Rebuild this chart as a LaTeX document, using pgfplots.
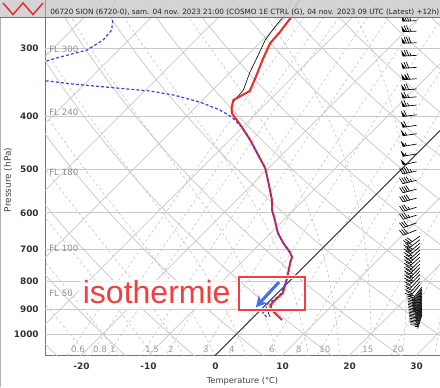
\documentclass[border=0pt]{standalone}
\usepackage{fontspec}
\setmainfont{DejaVu Sans}
\newfontfamily\arialf{Liberation Sans}
\usepackage{pgfplots}
\pgfplotsset{compat=1.18}
\usepackage{pgfplotstable}
\usetikzlibrary{arrows.meta}

\definecolor{gridc}{RGB}{200,200,200}
\definecolor{dashc}{RGB}{200,200,200}
\definecolor{tred}{RGB}{240,40,40}
\definecolor{tdblue}{RGB}{60,60,240}
\definecolor{annred}{RGB}{242,62,62}
\definecolor{arrblue}{RGB}{70,110,230}
\definecolor{hdr}{RGB}{208,208,208}
\definecolor{isozero}{RGB}{60,60,78}

% ---- saturated (moist) adiabat, integrated step by step ----
\newcommand\mstep[1]{%
  \pgfmathsetmacro\mTc{\mT-273.15}%
  \pgfmathsetmacro\mes{6.112*exp(17.67*\mTc/(\mTc+243.5))}%
  \pgfmathsetmacro\mrs{0.622*\mes/(\mPr-\mes)}%
  \pgfmathsetmacro\mLT{2501/\mT}%
  \pgfmathsetmacro\mdT{(0.287*\mT+2501*\mrs)/(\mPr*(1.005+\mLT*\mLT*\mrs*2.16725))}%
  \pgfmathsetmacro\mT{\mT+(#1)*\mdT}%
  \pgfmathsetmacro\mPr{\mPr+(#1)}%
}
\newcommand\moistcurve[1]{%
  \pgfmathsetmacro\mT{#1+273.15}%
  \def\mPr{1000}%
  \mstep{25}\mstep{25}\mstep{25}\mstep{25}%
  \def\mcoords{}%
  \pgfplotsforeachungrouped \mi in {0,...,69}{%
    \pgfmathsetmacro\mX{\mT-273.15+35.42*ln(1092.5/\mPr)}%
    \edef\mcoords{\mcoords(\mX,\mPr)}%
    \mstep{-12.5}%
  }%
  \edef\mtmp{\noexpand\addplot[dashl] coordinates {\mcoords};}%
  \mtmp
}

% ---- wind barb mark ----
\pgfdeclareplotmark{wbarb}{%
  \pgfkeys{/pgf/fpu=false}%
  \pgfsetlinewidth{0.5pt}%
  \pgfpathmoveto{\pgfpointorigin}%
  \pgfpathlineto{\pgfqpoint{10.5pt}{0pt}}%
  \pgfusepathqstroke
  \pgfmathtruncatemacro\npen{\spd/50}%
  \pgfmathtruncatemacro\nfull{(\spd-50*\npen)/10}%
  \pgfmathtruncatemacro\nhalf{(\spd-50*\npen-10*\nfull)/5}%
  \pgfmathsetmacro\szero{10.5-2.4*\npen-0.5*(\npen>0)}%
  \ifnum\npen>0
    \foreach \k in {1,...,\npen}{%
      \pgfmathsetmacro\aa{10.5-2.4*(\k-1)}%
      \pgfpathmoveto{\pgfpoint{\aa pt}{0pt}}%
      \pgfpathlineto{\pgfpoint{\aa pt+0.8pt}{-4.5pt}}%
      \pgfpathlineto{\pgfpoint{\aa pt-2.2pt}{0pt}}%
      \pgfpathclose
      \pgfusepathqfill
    }%
  \fi
  \ifnum\nfull>0
    \foreach \j in {1,...,\nfull}{%
      \pgfmathsetmacro\bb{\szero-1.7*(\j-1)}%
      \pgfpathmoveto{\pgfpoint{\bb pt}{0pt}}%
      \pgfpathlineto{\pgfpoint{\bb pt+1.5pt}{-4.5pt}}%
      \pgfusepathqstroke
    }%
  \fi
  \ifnum\nhalf>0
    \pgfmathsetmacro\bb{\szero-1.7*\nfull-1.7*((\npen+\nfull)==0)}%
    \pgfpathmoveto{\pgfpoint{\bb pt}{0pt}}%
    \pgfpathlineto{\pgfpoint{\bb pt+0.75pt}{-2.25pt}}%
    \pgfusepathqstroke
  \fi
}

% ---- data (pressure hPa, temperature degC) ----
\pgfplotstableread{
p T
240 -40.8
247.8 -40.4
261.8 -39.2
280.1 -38.6
293.4 -38.4
312.5 -37.2
340.0 -35.4
359.1 -34.3
373.1 -35.4
384.2 -34.6
394.0 -33.7
418.0 -30.1
441.6 -26.9
476.3 -22.8
496.8 -20.5
522.6 -18.3
545.1 -16.5
568.6 -14.7
593.0 -13.2
618.5 -11.3
653.4 -8.9
681.5 -6.6
707.8 -4.3
722.9 -3.2
741.4 -2.6
773.3 -1.4
789.8 -0.8
841.3 0.8
866.5 0.7
885.0 0.7
903.8 1.7
923.1 3.2
942.7 4.7
}\tempdata

\pgfplotstableread{
p T
240 -68.5
250 -67.5
261.8 -65.9
277.7 -64.0
289.7 -63.8
302.2 -64.7
311.2 -67.7
317.2 -69.3
326 -75
338 -75
344.3 -65.9
348.7 -61.7
354.6 -54.6
359.1 -49.2
365.2 -45.1
376.2 -40.1
389.1 -35.9
400.7 -33.1
418.0 -30.1
441.6 -26.9
476.3 -22.8
496.8 -20.5
522.6 -18.3
545.1 -16.5
568.6 -14.7
593.0 -13.2
618.5 -11.3
653.4 -8.9
681.5 -6.6
707.8 -4.3
722.9 -3.2
741.4 -2.6
773.3 -1.4
789.8 -0.8
841.3 0.6
866.5 0.5
877.5 0.1
903.8 0.7
915.3 0.8
930.9 2.0
}\dewdata

\pgfplotstableread{
p T
240 -41.8
247.8 -41.4
257.4 -40.5
274.3 -40.1
289.7 -39.6
308.6 -38.4
331.5 -37.1
357.6 -35.4
377.8 -35.1
394.0 -33.7
418.0 -30.1
441.6 -26.9
476.3 -22.8
496.8 -20.5
522.6 -18.3
545.1 -16.5
568.6 -14.7
593.0 -13.2
618.5 -11.3
653.4 -8.9
681.5 -6.6
707.8 -4.3
722.9 -3.2
741.4 -2.6
773.3 -1.4
789.8 -0.8
841.3 0.8
866.5 0.7
892.5 1.0
915.3 1.6
930.9 2.5
}\blackdata

% wind: pressure, speed (kt), staff angle (deg), position
\pgfplotstableread{
p spd ang X
267 75 -178 30.0
279 75 -178 30.0
293 80 -178 30.0
309 75 -177 30.0
325 70 -176 30.0
341 110 -176 30.0
356 70 -175 30.0
368 65 -175 30.0
381 65 -174 30.0
397 60 -173 30.0
415 60 -172 30.0
430 55 -172 30.0
449 55 -170 30.0
468 55 -170 30.0
484 50 -168 30.0
503 45 -168 30.0
523 45 -166 30.0
543 40 -165 30.0
564 40 -165 30.0
586 35 -163 30.0
606 35 -163 30.0
626 30 -160 30.0
645 30 -158 30.0
662 30 -145 30.5
672 30 -142 30.5
682 30 -140 30.5
692 30 -140 30.5
702 25 -138 30.5
712 25 -138 30.5
723 25 -138 30.5
734 25 -136 30.5
745 25 -136 30.5
756 25 -135 30.5
767 25 -135 30.5
778 25 -134 30.5
790 20 -133 30.5
802 20 -132 30.5
813 20 -130 30.5
820 20 -128 30.8
826 20 -127 30.8
831 15 -126 30.8
836 15 -125 30.8
841 15 -124 30.8
846 15 -124 30.8
851 15 -123 30.8
856 15 -122 30.8
861 15 -121 30.8
866 15 -120 30.8
871 15 -120 30.8
876 10 -119 30.8
881 10 -118 30.8
886 10 -118 30.8
891 10 -117 30.8
896 10 -116 30.8
901 10 -115 30.8
906 10 -114 30.8
912 10 -112 30.8
918 5 -110 30.8
924 5 -108 30.8
}\windtab

\begin{document}
\begin{tikzpicture}
\path[use as bounding box] (-33.75pt,-24pt) rectangle (296.25pt,266.25pt);
\begin{axis}[
  at={(0,0)}, anchor=south west,
  scale only axis, width=296.25pt, height=266.25pt,
  xmin=-25.45, xmax=33.5,
  ymode=log, ymin=244.7, ymax=1092.5, y dir=reverse,
  axis x line*=bottom, axis y line*=left,
  axis line style={draw=black!55, line width=0.6pt, -},
  xtick={-20,-10,0,10,20,30},
  xticklabels={-20,-10,0,10,20,30},
  ytick={300,400,500,600,700,800,900,1000},
  yticklabels={300,400,500,600,700,800,900,1000},
  major tick length=0pt,
  tick label style={font=\fontsize{6.7}{8}\selectfont\bfseries, text=black!80},
  xticklabel style={yshift=-2.6pt},
  yticklabel style={xshift=-1.2pt},
  gridl/.style={gridc, line width=0.55pt},
  dashl/.style={dashc, line width=0.5pt, dash pattern=on 2pt off 2pt},
  clip=true,
]
% isobars
\pgfplotsinvokeforeach{300,400,500,600,700,800,900,1000}{%
  \addplot[gridl, forget plot] coordinates {(-30,#1) (40,#1)};
}
% isotherms
\pgfplotsinvokeforeach{-80,-70,-60,-50,-40,-30,-20,-10,10,20,30}{%
  \addplot[gridl, domain=240:1100, samples=2, variable=\pp] ({#1+35.42*ln(1092.5/\pp)},{\pp});
}
% dry adiabats
\pgfplotsinvokeforeach{-30,-20,-10,0,10,20,30,40,50,60,70,80,90,100,110}{%
  \addplot[gridl, domain=240:1100, samples=25, variable=\pp, smooth] ({(#1+273.15)*(\pp/1000)^0.2857-273.15+35.42*ln(1092.5/\pp)},{\pp});
}
% mixing ratio lines
\pgfplotsinvokeforeach{0.6,0.8,1,1.5,2,3,4,6,8,10,15,20}{%
  \addplot[dashl, domain=240:1100, samples=20, variable=\pp, smooth] ({243.5*ln(#1*\pp/(622+#1)/6.112)/(17.67-ln(#1*\pp/(622+#1)/6.112))+35.42*ln(1092.5/\pp)},{\pp});
}
% saturated adiabats
\moistcurve{-25}\moistcurve{-20}\moistcurve{-15}\moistcurve{-10}\moistcurve{-5}
\moistcurve{0}\moistcurve{5}\moistcurve{10}\moistcurve{15}\moistcurve{20}
\moistcurve{25}\moistcurve{30}\moistcurve{35}
% 0 degC isotherm
\addplot[isozero, line width=0.8pt, domain=240:1100, samples=2, variable=\pp] ({35.42*ln(1092.5/\pp)},{\pp});

% profiles
\addplot[black, line width=0.45pt] table[x expr={\thisrow{T}+35.42*ln(1092.5/\thisrow{p})}, y=p] {\blackdata};
\addplot[tred, line width=1.5pt, line join=round] table[x expr={\thisrow{T}+35.42*ln(1092.5/\thisrow{p})}, y=p] {\tempdata};
\addplot[tdblue, line width=0.9pt, dash pattern=on 2.2pt off 1.6pt] table[x expr={\thisrow{T}+35.42*ln(1092.5/\thisrow{p})}, y=p] {\dewdata};

% wind barbs
\addplot[scatter, only marks, mark=wbarb, black,
  visualization depends on={\thisrow{spd}\as\spd},
  visualization depends on={\thisrow{ang}\as\ang},
  scatter/@pre marker code/.code={\pgfscope\pgftransformrotate{\ang}},
  scatter/@post marker code/.code={\endpgfscope},
] table[x=X, y=p] {\windtab};
\end{axis}

% ---- overlay in pixel coordinates ----
\begin{scope}[x=0.75pt, y=-0.75pt, shift={(-33.75pt,266.25pt)}]
  % flight levels
  \begin{scope}[every node/.style={anchor=west, inner sep=0pt, text=black!45, font=\fontsize{6.5}{7}\selectfont}]
    \node at (49,49) {FL 300};
    \node at (49,112.4) {FL 240};
    \node at (49,172.4) {FL 180};
    \node at (49,248.3) {FL 100};
    \node at (49,293.5) {FL 50};
  \end{scope}
  % mixing ratio labels
  \begin{scope}[every node/.style={inner sep=0pt, text=black!38, font=\fontsize{6.5}{7}\selectfont}]
    \node at (78,349) {0.6};
    \node at (100,349) {0.8};
    \node at (113,349) {1};
    \node at (152,349) {1.5};
    \node at (171,349) {2};
    \node at (206,349) {3};
    \node at (232,349) {4};
    \node at (272,349) {6};
    \node at (299,349) {8};
    \node at (325,349) {10};
    \node at (368,349) {15};
    \node at (398,349) {20};
  \end{scope}
  % axis titles
  \node[rotate=90, inner sep=0pt, text=black!75, font=\fontsize{6.7}{8}\selectfont] at (8,180) {Pressure (hPa)};
  \node[inner sep=0pt, text=black!75, font=\fontsize{6.2}{7}\selectfont] at (242.5,381.5) {Temperature (°C)};
  % left frame
  \draw[black!30, line width=0.75pt] (0.5,17) -- (0.5,387);
  % header
  \fill[hdr, opacity=0.92] (0,0) rectangle (440,17);
  \draw[black!55, line width=0.5pt] (0,17) -- (440,17);
  \draw[black!40, line width=0.5pt] (45,0) -- (45,17);
  \draw[tred, line width=1.1pt, line join=miter] (3,3) -- (13,14.5) -- (23,3) -- (33,14.5) -- (43,3);
  \node[anchor=base west, inner sep=0pt, text=black!85, font=\fontsize{5.45}{6}\selectfont] at (50,14) {06720 SION (6720-0), sam. 04 nov. 2023 21:00 (COSMO 1E CTRL (G), 04 nov. 2023 09 UTC (Latest) +12h)};
  % annotation
  \fill[white, opacity=0.75, rounded corners=4pt] (79,280) rectangle (235,309);
  \draw[white, line width=2.6pt, opacity=0.85] (239,277) rectangle (305,310);
  \draw[annred, line width=1.1pt] (239,277) rectangle (305,310);
  \draw[white, line width=4pt, opacity=0.7] (279,282) -- (258,305);
  \draw[arrblue, line width=2.3pt, -{Stealth[length=8pt, width=9pt]}] (279,282) -- (256,307);
  \node[anchor=base, inner sep=0pt, text=annred, font=\arialf\fontsize{24}{26}\selectfont] at (156.7,303) {isothermie};
\end{scope}
\end{tikzpicture}
\end{document}
